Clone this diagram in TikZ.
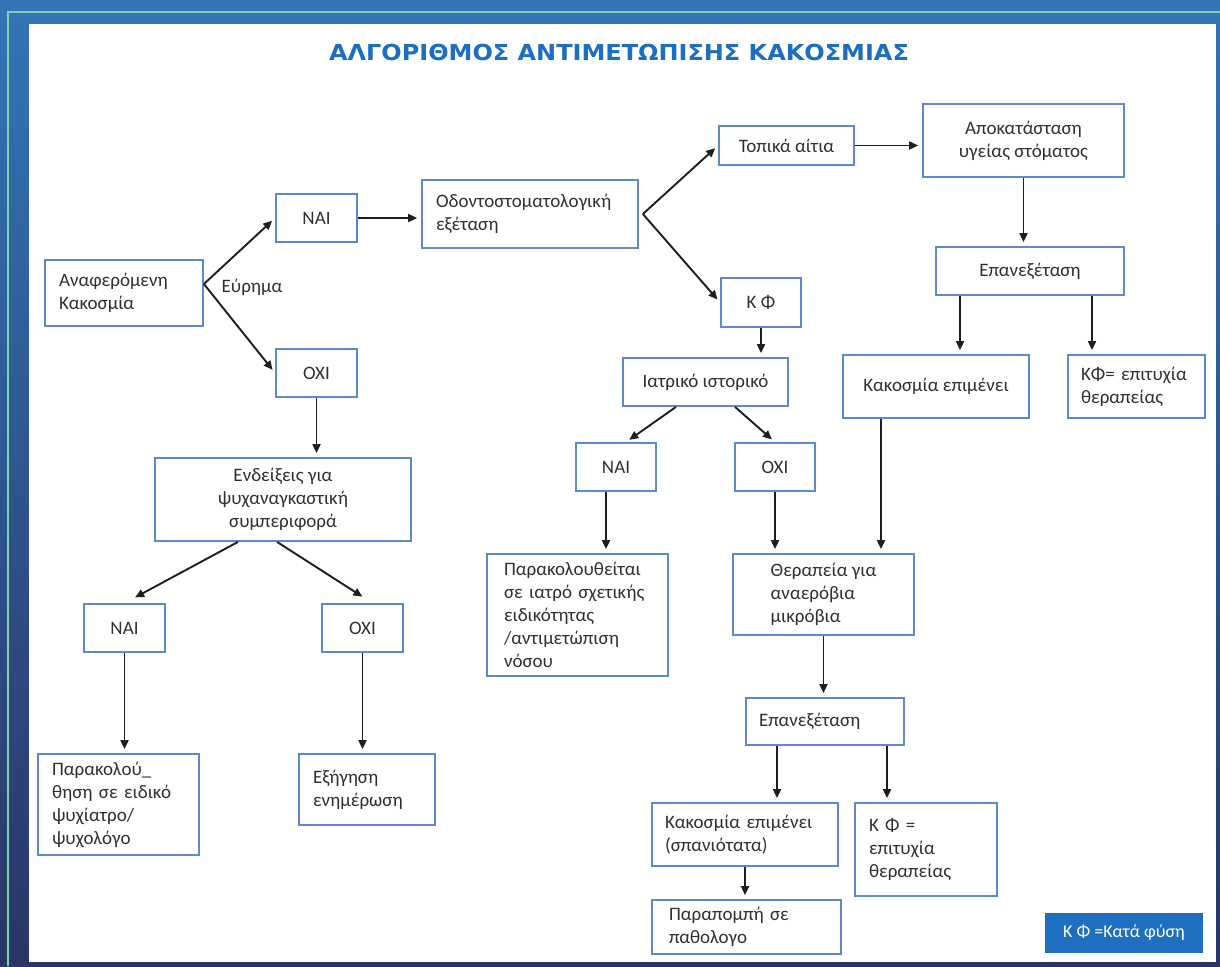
\documentclass[tikz,border=0pt]{standalone}
\usepackage{fontspec}
\setmainfont{Carlito}
\newfontfamily\titlefont{DejaVu Sans}[FakeStretch=1.09]
\usetikzlibrary{arrows.meta}
\definecolor{boxblue}{HTML}{5F88D2}
\definecolor{txtgray}{HTML}{303030}
\definecolor{arrgray}{HTML}{1E1E1E}
\definecolor{headblue}{HTML}{1B6EC2}
\definecolor{keyblue}{HTML}{1E6FC0}
\definecolor{frametop}{HTML}{3375B6}
\definecolor{framebot}{HTML}{2A3566}
\definecolor{frameline}{HTML}{7CD3B4}

\begin{document}
\begin{tikzpicture}[x=1pt,y=-1pt,
    box/.style={draw=boxblue,line width=1.8pt,inner sep=0pt,text=txtgray,
      font=\fontsize{19}{23}\selectfont,align=center},
    lbox/.style={box,align=left},
    arr/.style={draw=arrgray,line width=1.9pt,-{Triangle[length=9pt,width=8pt]},
      shorten >=4pt}]
  \useasboundingbox (0,0) rectangle (1220,966);
  % frame
  \shade[top color=frametop,bottom color=framebot] (0,0) rectangle (1220,966);
  \draw[frameline,line width=2pt] (1220,12) -- (8,12) -- (8,966);
  \fill[white] (29,24) rectangle (1216,962);
  \node[text=headblue,font=\titlefont\bfseries\fontsize{22}{26}\selectfont]
    (head) at (619,52) {ΑΛΓΟΡΙΘΜΟΣ ΑΝΤΙΜΕΤΩΠΙΣΗΣ ΚΑΚΟΣΜΙΑΣ};

  % left branch
  \node[lbox,minimum width=158pt,minimum height=66pt,text width=130pt,inner xsep=14pt]
    (rep) at (124,293) {Αναφερόμενη\\Κακοσμία};
  \node[text=txtgray,font=\fontsize{19}{23}\selectfont] (find) at (252,287) {Εύρημα};
  \node[box,minimum width=81pt,minimum height=48pt] (yes1) at (316.5,218) {ΝΑΙ};
  \node[box,minimum width=81pt,minimum height=48pt] (no1) at (316.5,373) {ΟΧΙ};
  \node[box,minimum width=256pt,minimum height=83pt]
    (obs) at (283,499.5) {Ενδείξεις για\\ψυχαναγκαστική\\συμπεριφορά};
  \node[box,minimum width=81pt,minimum height=48pt] (yes3) at (124.5,628) {ΝΑΙ};
  \node[box,minimum width=81pt,minimum height=48pt] (no3) at (362.5,628) {ΟΧΙ};
  \node[lbox,minimum width=161pt,minimum height=101pt,text width=133pt,inner xsep=14pt]
    (psych) at (118.5,804.5) {Παρακολού\_\\θηση σε ειδικό\\ψυχίατρο/\\ψυχολόγο};
  \node[lbox,minimum width=136pt,minimum height=71pt,text width=108pt,inner xsep=14pt]
    (expl) at (367,789.5) {Εξήγηση\\ενημέρωση};

  % middle
  \node[lbox,minimum width=216pt,minimum height=68pt,text width=188pt,inner xsep=14pt]
    (oral) at (530,214) {Οδοντοστοματολογική\\εξέταση};
  \node[box,minimum width=135pt,minimum height=39pt] (local) at (786.5,145.5) {Τοπικά αίτια};
  \node[box,minimum width=80pt,minimum height=49pt] (kf) at (761,302.5) {Κ Φ};
  \node[box,minimum width=165pt,minimum height=48pt] (hist) at (705.5,382) {Ιατρικό ιστορικό};
  \node[box,minimum width=80pt,minimum height=48pt] (yes2) at (616,467) {ΝΑΙ};
  \node[box,minimum width=80pt,minimum height=48pt] (no2) at (775,467) {ΟΧΙ};
  \node[lbox,minimum width=181pt,minimum height=122pt,text width=147pt,inner xsep=17pt]
    (follow) at (577.5,615)
    {Παρακολουθείται\\σε ιατρό σχετικής\\ειδικότητας\\/αντιμετώπιση\\νόσου};
  \node[lbox,minimum width=181pt,minimum height=81pt]
    (treat) at (823.5,594.5) {Θεραπεία για\\αναερόβια\\μικρόβια};
  \node[lbox,minimum width=158pt,minimum height=47pt,text width=132pt,inner xsep=13pt]
    (rev2) at (825,721.5) {Επανεξέταση};
  \node[lbox,minimum width=186pt,minimum height=63pt,text width=160pt,inner xsep=13pt]
    (pers2) at (745,834.5) {Κακοσμία επιμένει\\(σπανιότατα)};
  \node[lbox,minimum width=142pt,minimum height=93pt,text width=114pt,inner xsep=14pt]
    (kfok2) at (926,849.5) {Κ Φ =\\επιτυχία\\θεραπείας};
  \node[lbox,minimum width=189pt,minimum height=54pt,text width=155pt,inner xsep=17pt]
    (refer) at (746.5,927) {Παραπομπή σε\\παθολογο};

  % right
  \node[box,minimum width=201pt,minimum height=73pt]
    (rest) at (1023.5,140.5) {Αποκατάσταση\\υγείας στόματος};
  \node[box,minimum width=188pt,minimum height=48pt] (rev1) at (1030,271) {Επανεξέταση};
  \node[box,minimum width=186pt,minimum height=63pt] (pers1) at (936,386.5) {Κακοσμία επιμένει};
  \node[lbox,minimum width=137pt,minimum height=63pt,text width=111pt,inner xsep=13pt]
    (kfok1) at (1136.5,386.5) {ΚΦ= επιτυχία\\θεραπείας};

  \node[fill=keyblue,text=white,minimum width=158pt,minimum height=40pt,inner sep=0pt,
    font=\fontsize{18}{22}\selectfont] (key) at (1124,933) {Κ Φ =Κατά φύση};

  % connectors
  \draw[arr] ([yshift=9pt]rep.east) -- (yes1.west);
  \draw[arr] ([yshift=9pt]rep.east) -- (no1.west);
  \draw[arr] (no1.south) -- (no1.south |- obs.north);
  \draw[arr,shorten >=12pt] ([xshift=-45pt]obs.south) -- (yes3.north);
  \draw[arr,shorten >=12pt] ([xshift=-6pt]obs.south) -- ([xshift=10pt]no3.north);
  \draw[arr] (yes3.south) -- (yes3.south |- psych.north);
  \draw[arr] (no3.south) -- (no3.south |- expl.north);
  \draw[arr] (yes1.east) -- (yes1.east -| oral.west);
  \draw[arr] ([xshift=4pt]oral.east) -- (local.west);
  \draw[arr] ([xshift=4pt]oral.east) -- (kf.west);
  \draw[arr] (kf.south) -- (kf.south |- hist.north);
  \draw[arr] ([xshift=-29.5pt]hist.south) -- ([xshift=10pt]yes2.north);
  \draw[arr] ([xshift=29.5pt]hist.south) -- (no2.north);
  \draw[arr] ([xshift=-10pt]yes2.south) -- ([xshift=28.5pt]follow.north);
  \draw[arr] (no2.south) -- ([xshift=-48.5pt]treat.north);
  \draw[arr] (treat.south) -- (treat.south |- rev2.north);
  \draw[arr] ([xshift=-48pt]rev2.south) -- ([xshift=32pt]pers2.north);
  \draw[arr] ([xshift=62pt]rev2.south) -- ([xshift=-39pt]kfok2.north);
  \draw[arr] (pers2.south) -- (pers2.south |- refer.north);
  \draw[arr] (local.east) -- (local.east -| rest.west);
  \draw[arr] (rest.south) -- (rest.south |- rev1.north);
  \draw[arr] ([xshift=-70pt]rev1.south) -- ([xshift=24pt]pers1.north);
  \draw[arr] ([xshift=62pt]rev1.south) -- ([xshift=-44.5pt]kfok1.north);
  \draw[arr] ([xshift=-55pt]pers1.south) -- ([xshift=57.5pt]treat.north);
\end{tikzpicture}
\end{document}
